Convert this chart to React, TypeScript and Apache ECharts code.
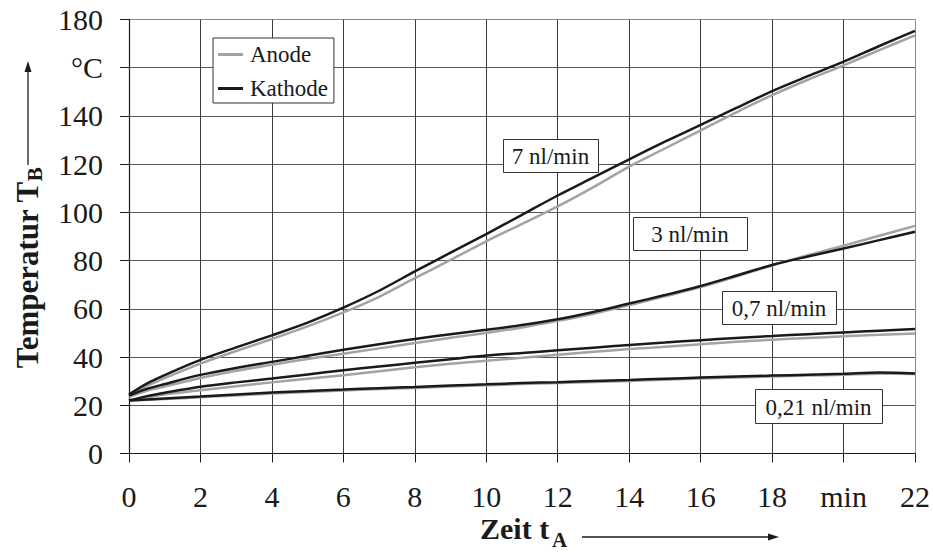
import React, { useEffect, useRef } from "react";
import * as echarts from "echarts";

const times = [0, 0.5, 1, 2, 3, 4, 5, 6, 7, 8, 9, 10, 11, 12, 13, 14, 15, 16, 17, 18, 19, 20, 21, 22];

const k7 = [24.5, 29, 32.5, 38.8, 44, 49, 54.3, 60.5, 67.5, 75.5, 83.3, 91, 99, 107, 114.5, 122, 129.3, 136.3, 143.3, 150.3, 156.5, 162.5, 169, 175.3];
const a7 = [23.5, 28, 31.3, 37.3, 42.5, 47.5, 52.7, 58.5, 65, 72.7, 80.3, 88, 95.2, 102.5, 110.5, 119, 126.5, 134, 141.5, 148.6, 155, 161, 167.3, 173.4];

const k3 = [24, 26.8, 28.8, 32.6, 35.5, 38, 40.5, 43, 45.3, 47.5, 49.5, 51.3, 53.3, 55.7, 58.7, 62.2, 65.7, 69.5, 73.8, 78.2, 81.7, 85, 88.5, 92];
const a3 = [23.5, 26, 27.8, 31.3, 34.3, 36.8, 39.2, 41.4, 43.6, 45.8, 48, 50, 52.3, 55, 58, 61.5, 65.2, 69, 73.4, 78, 82.2, 86.2, 90.3, 94.4];

const k07 = [22, 23.8, 25.2, 27.7, 29.5, 31.1, 32.8, 34.5, 36.1, 37.6, 39.1, 40.6, 41.7, 42.8, 43.9, 45, 46, 47, 47.9, 48.7, 49.5, 50.2, 50.9, 51.6];
const a07 = [22, 23.3, 24.5, 26.2, 27.9, 29.5, 31, 32.5, 34.1, 35.8, 37.2, 38.5, 39.7, 41, 42.2, 43.3, 44.3, 45.3, 46.3, 47.2, 47.9, 48.6, 49.2, 49.8];

const k021 = [22, 22.4, 22.8, 23.6, 24.5, 25.3, 25.9, 26.5, 27.1, 27.6, 28.2, 28.7, 29.2, 29.6, 30.1, 30.5, 31, 31.5, 31.9, 32.3, 32.7, 33.1, 33.6, 33.2];
const a021 = [22, 22.3, 22.6, 23.3, 24.1, 24.9, 25.5, 26.1, 26.7, 27.2, 27.8, 28.3, 28.8, 29.2, 29.7, 30.1, 30.6, 31.1, 31.5, 31.9, 32.3, 32.7, 33.1, 33.0];

const xTickLabels: Record<number, string> = { 0: "0", 2: "2", 4: "4", 6: "6", 8: "8", 10: "10", 12: "12", 14: "14", 16: "16", 18: "18", 20: "min", 22: "22" };
const yTickLabels: Record<number, string> = { 0: "0", 20: "20", 40: "40", 60: "60", 80: "80", 100: "100", 120: "120", 140: "140", 160: "°C", 180: "180" };

const flowLabels = ["7 nl/min", "3 nl/min", "0,7 nl/min", "0,21 nl/min"];

const FONT = "Liberation Serif, Times New Roman, serif";
const BLACK = "#1a1a1a";
const GRAY = "#a3a3a3";

const pair = (ys: number[]) => times.map((t, i) => [t, ys[i]]);

export default function App() {
  const ref = useRef<HTMLDivElement>(null);
  useEffect(() => {
    if (!ref.current) return;
    const chart = echarts.init(ref.current, undefined, { renderer: "svg" });
    const mk = (name: string, ys: number[], color: string) => ({
      name,
      type: "line",
      data: pair(ys),
      smooth: 0.3,
      symbol: "none",
      lineStyle: { color, width: 2.5 },
      itemStyle: { color },
      z: name === "Kathode" ? 3 : 2,
    });
    const gridColX = Array.from({ length: 12 }, (_, i) => (i === 11 ? "#8a8a8a" : "#3a3a3a"));
    const gridColY = Array.from({ length: 10 }, (_, i) => (i === 9 ? "#8a8a8a" : "#555555"));
    const boxes = [
      { x: 503, y: 139, w: 95, h: 33 },
      { x: 633, y: 217, w: 114, h: 33 },
      { x: 722, y: 291, w: 114, h: 33 },
      { x: 755, y: 389, w: 127, h: 34 },
    ];
    const boxGraphics: any[] = [];
    boxes.forEach((b, i) => {
      boxGraphics.push({
        type: "rect",
        shape: { x: b.x + 0.5, y: b.y + 0.5, width: b.w, height: b.h },
        style: { fill: "#fff", stroke: "#333", lineWidth: 1 },
        z: 100,
      });
      boxGraphics.push({
        type: "text",
        x: b.x + b.w / 2,
        y: b.y + b.h / 2 + 1,
        style: {
          text: flowLabels[i],
          fontFamily: FONT,
          fontSize: 23,
          fill: BLACK,
          align: "center",
          verticalAlign: "middle",
        },
        z: 101,
      });
    });
    const titleRich = {
      a: { fontFamily: FONT, fontSize: 31, fontWeight: "bold", fill: BLACK, verticalAlign: "middle", lineHeight: 34 },
      b: { fontFamily: FONT, fontSize: 21, fontWeight: "bold", fill: BLACK, verticalAlign: "bottom", padding: [16, 0, 0, 0] },
    };
    const mainStyle = { fontFamily: FONT, fontSize: 30, fontWeight: "bold", fill: BLACK, lineHeight: 26 };
    const subStyle = { fontFamily: FONT, fontSize: 21, fontWeight: "bold", fill: BLACK, lineHeight: 18 };
    chart.setOption({
      animation: false,
      grid: { left: 129, right: 17, top: 19.5, bottom: 98.5, containLabel: false },
      legend: {
        left: 213,
        top: 38,
        orient: "vertical",
        data: [
          { name: "Anode", icon: "rect" },
          { name: "Kathode", icon: "rect" },
        ],
        itemWidth: 25,
        itemHeight: 3,
        itemGap: 11,
        padding: [5, 6, 3, 5],
        backgroundColor: "#fff",
        borderColor: "#333",
        borderWidth: 1,
        textStyle: { fontFamily: FONT, fontSize: 23, color: BLACK, padding: [0, 0, 0, 2] },
        selectedMode: false,
        z: 50,
      },
      xAxis: {
        type: "value",
        min: 0,
        max: 22,
        interval: 2,
        axisLine: { show: true, onZero: false, lineStyle: { color: BLACK, width: 1.2 } },
        axisTick: { show: true, length: 9, lineStyle: { color: BLACK } },
        axisLabel: {
          fontFamily: FONT,
          fontSize: 30,
          lineHeight: 24,
          color: BLACK,
          margin: 31,
          formatter: (v: number) => xTickLabels[v] ?? "",
        },
        splitLine: { show: true, lineStyle: { color: gridColX, width: 1 } },
      },
      yAxis: {
        type: "value",
        min: 0,
        max: 180,
        interval: 20,
        axisLine: { show: true, lineStyle: { color: BLACK, width: 1.2 } },
        axisTick: { show: true, length: 9, lineStyle: { color: BLACK } },
        axisLabel: {
          fontFamily: FONT,
          fontSize: 30,
          color: BLACK,
          margin: 26,
          formatter: (v: number) => yTickLabels[v] ?? "",
        },
        splitLine: { show: true, lineStyle: { color: gridColY, width: 1 } },
      },
      series: [
        mk("Anode", a7, GRAY),
        mk("Anode", a3, GRAY),
        mk("Anode", a07, GRAY),
        mk("Anode", a021, GRAY),
        mk("Kathode", k7, BLACK),
        mk("Kathode", k3, BLACK),
        mk("Kathode", k07, BLACK),
        mk("Kathode", k021, BLACK),
      ],
      graphic: [
        ...boxGraphics,
        {
          type: "text",
          x: 27,
          y: 268,
          rotation: Math.PI / 2,
          style: {
            text: "{a|Temperatur T}{b|B}",
            fill: BLACK,
            align: "center",
            verticalAlign: "middle",
            rich: titleRich,
          },
        },
        { type: "line", shape: { x1: 28, y1: 165, x2: 28, y2: 70 }, style: { stroke: BLACK, lineWidth: 1.3 } },
        { type: "polygon", shape: { points: [[28, 61], [24.5, 72], [31.5, 72]] }, style: { fill: BLACK } },
        {
          type: "text",
          x: 480,
          y: 528,
          style: { text: "Zeit t", align: "left", verticalAlign: "middle", ...mainStyle },
        },
        {
          type: "text",
          x: 552,
          y: 540,
          style: { text: "A", align: "left", verticalAlign: "middle", ...subStyle },
        },
        { type: "line", shape: { x1: 582, y1: 537, x2: 770, y2: 537 }, style: { stroke: BLACK, lineWidth: 1.3 } },
        { type: "polygon", shape: { points: [[779, 537], [768, 533.5], [768, 540.5]] }, style: { fill: BLACK } },
      ],
    });
    return () => chart.dispose();
  }, []);
  return (
    <div
      ref={ref}
      style={{ position: "fixed", left: 0, top: 0, width: 933, height: 552, background: "#fff" }}
    />
  );
}
